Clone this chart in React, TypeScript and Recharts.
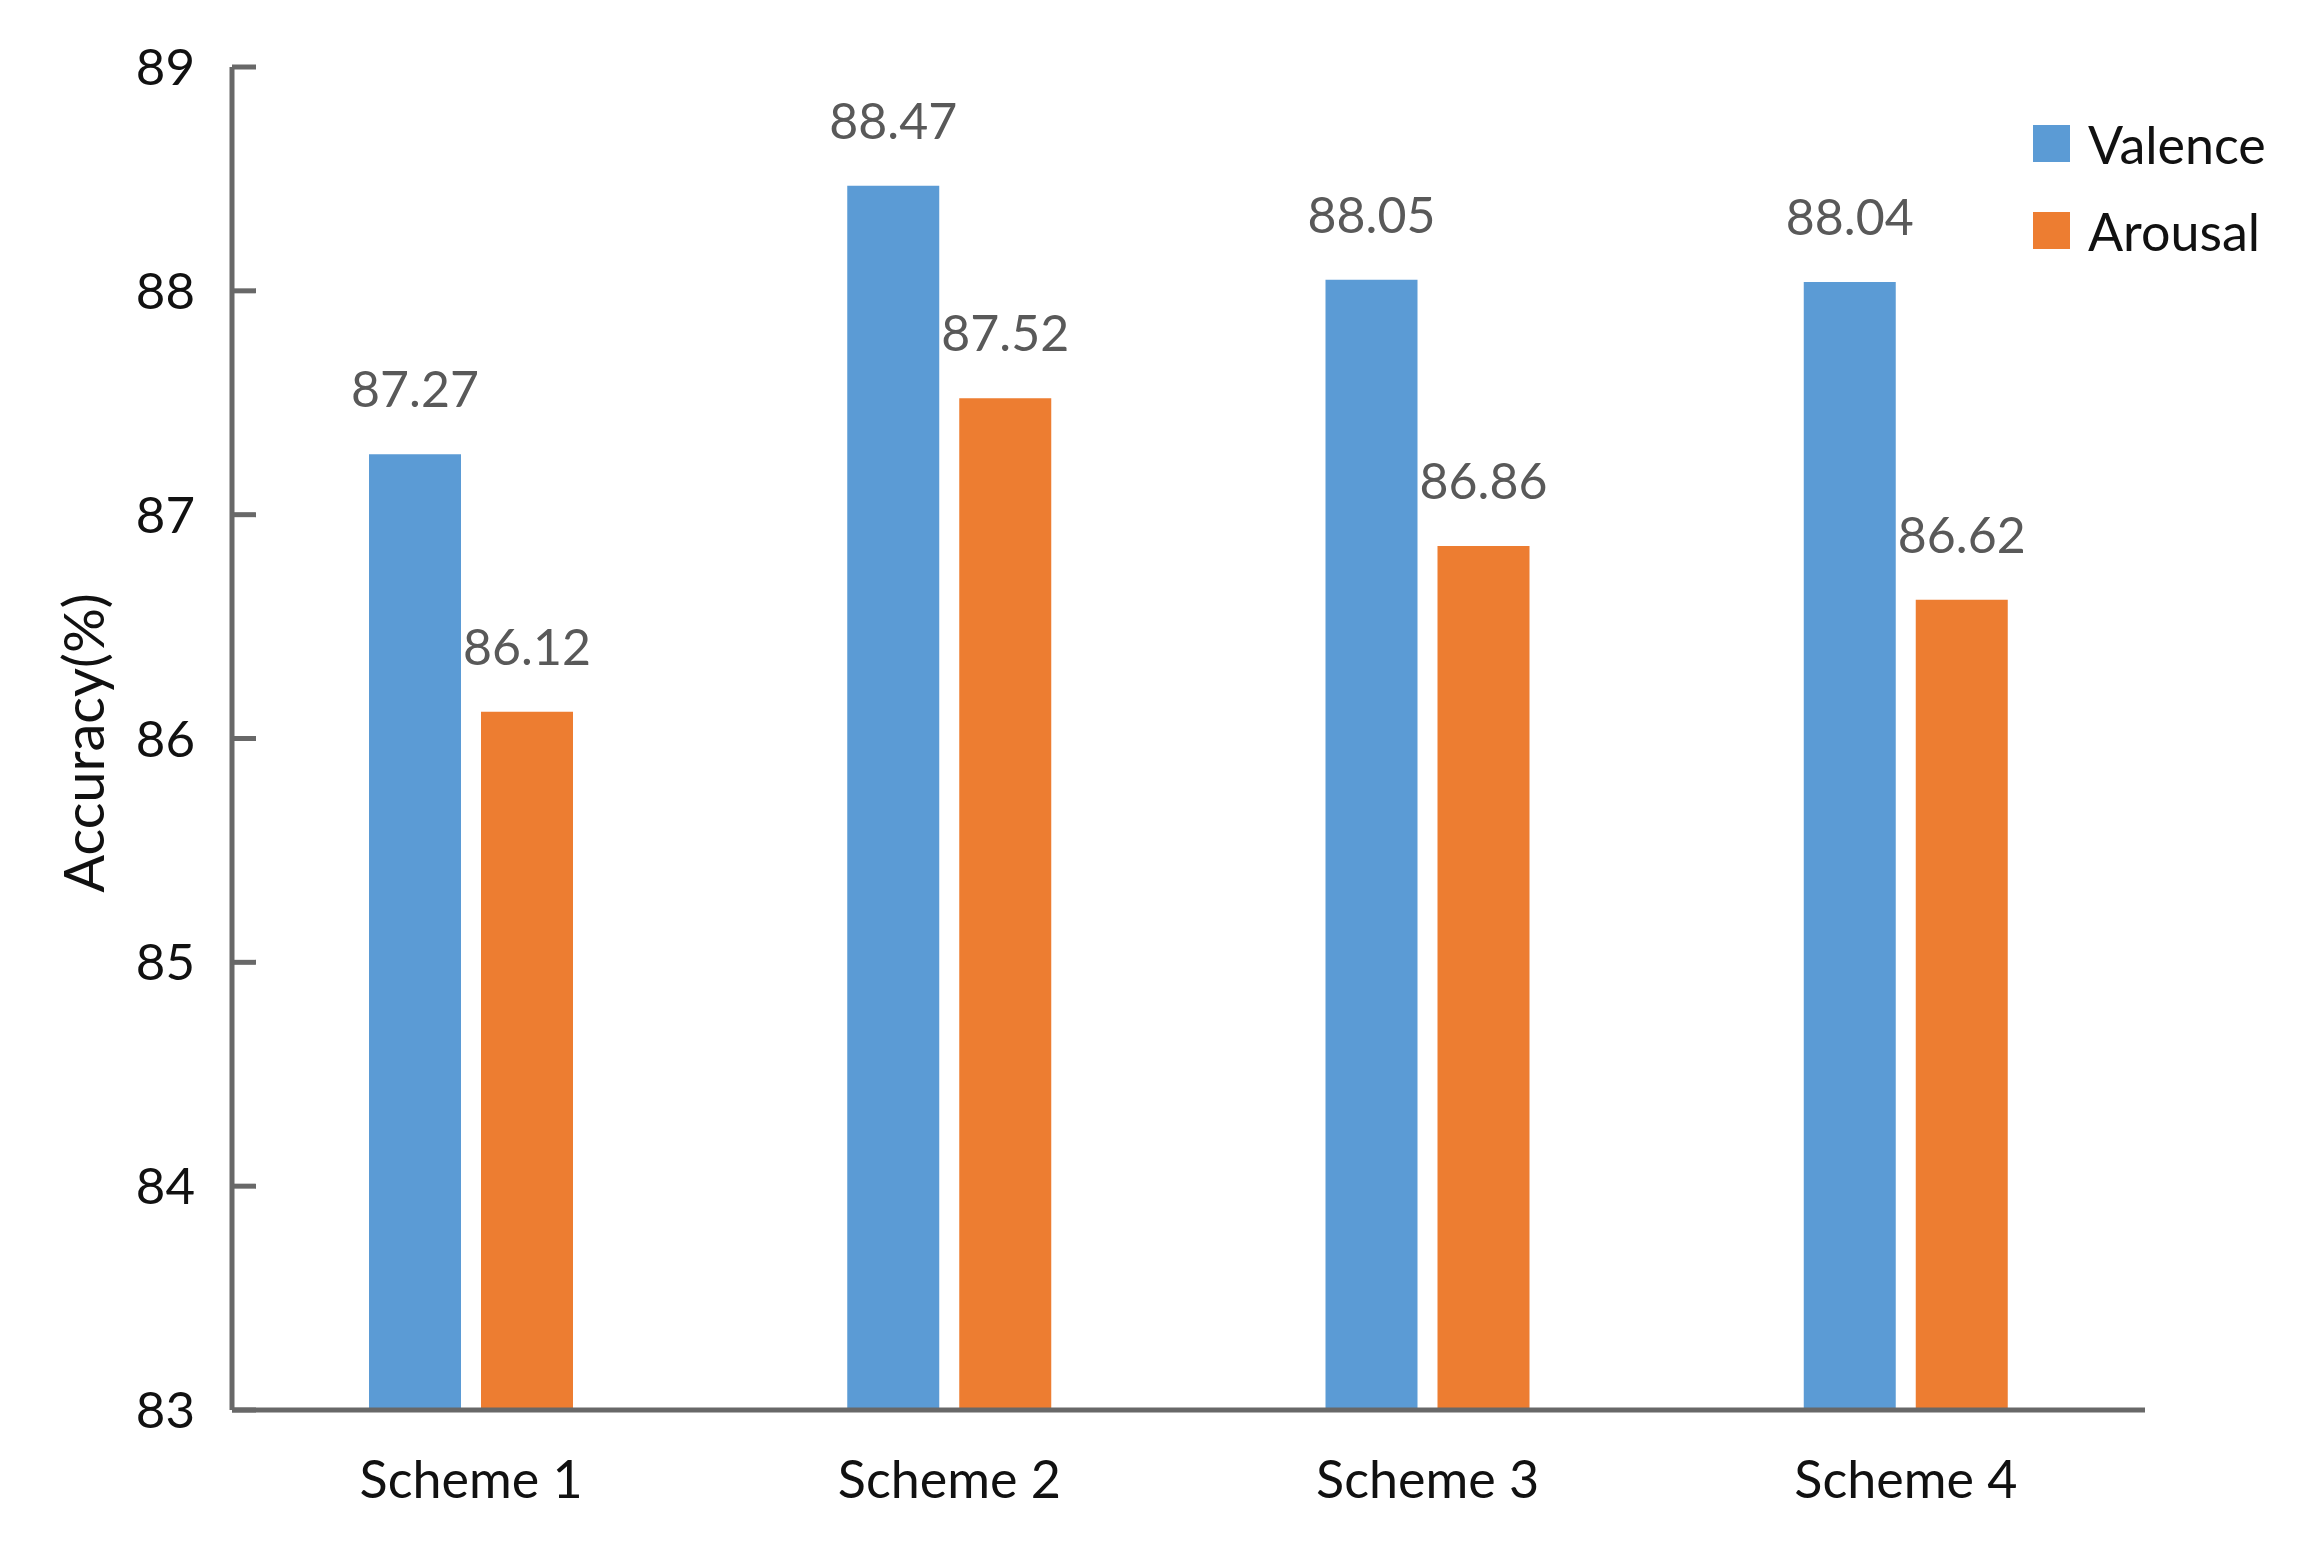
import { BarChart, Bar, XAxis, YAxis, Legend, LabelList } from "recharts"

const schemes = ["Scheme 1", "Scheme 2", "Scheme 3", "Scheme 4"]
const seriesNames = ["Valence", "Arousal"]
const valence = [87.27, 88.47, 88.05, 88.04]
const arousal = [86.12, 87.52, 86.86, 86.62]
const yTicks = [83, 84, 85, 86, 87, 88, 89]

const data = schemes.map((name, i) => ({ name, Valence: valence[i], Arousal: arousal[i] }))

const FONT = "Lato, 'Open Sans', sans-serif"
const AXIS = "#686868"

function LegendBox({ payload }: any) {
  const items = [...(payload || [])].sort(
    (a: any, b: any) => seriesNames.indexOf(a.value) - seriesNames.indexOf(b.value)
  )
  return (
    <div style={{ fontFamily: FONT }}>
      {items.map((p: any) => (
        <div key={p.value} style={{ display: "flex", alignItems: "center", height: 87 }}>
          <span style={{ width: 37, height: 37, background: p.color, display: "inline-block", marginRight: 18 }} />
          <span style={{ fontSize: 52, color: "#111" }}>{p.value}</span>
        </div>
      ))}
    </div>
  )
}

export default function App() {
  return (
    <div style={{ position: "fixed", left: 0, top: 0, width: 2319, height: 1557, background: "#fff" }}>
      <BarChart
        width={2319}
        height={1557}
        data={data}
        margin={{ top: 67, right: 174, bottom: 0, left: 0 }}
        barSize={92}
        barGap={20}
      >
        <XAxis
          dataKey="name"
          height={147}
          tickLine={false}
          tickSize={0}
          tickMargin={51}
          axisLine={{ stroke: AXIS, strokeWidth: 5 }}
          tick={{ fontSize: 52, fill: "#111", fontFamily: FONT }}
        />
        <YAxis
          width={232}
          domain={[83, 89]}
          ticks={yTicks}
          interval={0}
          tickSize={-24}
          tickMargin={61}
          tickLine={{ stroke: AXIS, strokeWidth: 5 }}
          axisLine={{ stroke: AXIS, strokeWidth: 5 }}
          tick={{ fontSize: 51, fill: "#111", fontFamily: FONT }}
          label={{
            content: () => (
              <text
                x={82}
                y={743}
                transform="rotate(-90 82 743)"
                textAnchor="middle"
                dominantBaseline="central"
                fontSize={56}
                fontFamily={FONT}
                fill="#111"
              >
                Accuracy(%)
              </text>
            ),
          }}
        />
        <Legend
          layout="vertical"
          align="center"
          verticalAlign="middle"
          wrapperStyle={{ left: 2033, top: 100, width: 280 }}
          content={<LegendBox />}
        />
        <Bar dataKey="Valence" fill="#5B9BD5" isAnimationActive={false}>
          <LabelList dataKey="Valence" position="top" offset={47} style={{ fontSize: 50, fill: "#595959", fontFamily: FONT }} />
        </Bar>
        <Bar dataKey="Arousal" fill="#ED7D31" isAnimationActive={false}>
          <LabelList dataKey="Arousal" position="top" offset={47} style={{ fontSize: 50, fill: "#595959", fontFamily: FONT }} />
        </Bar>
      </BarChart>
    </div>
  )
}
